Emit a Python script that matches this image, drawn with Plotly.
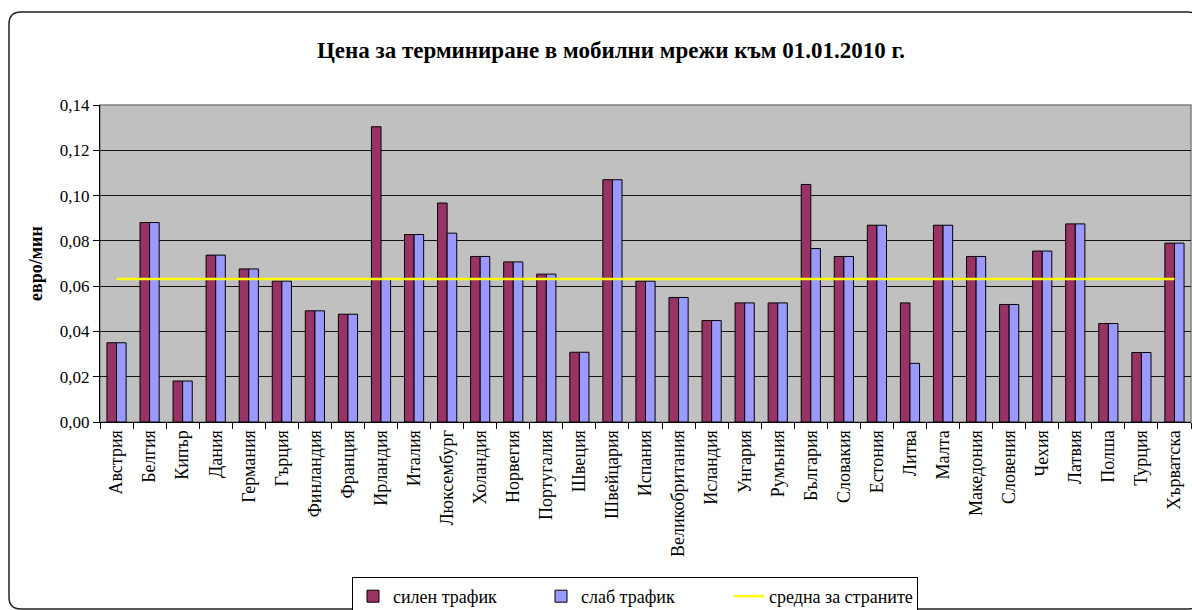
import plotly.graph_objects as go

countries = ["Австрия", "Белгия", "Кипър", "Дания", "Германия", "Гърция", "Финландия",
             "Франция", "Ирландия", "Италия", "Люксембург", "Холандия", "Норвегия",
             "Португалия", "Швеция", "Швейцария", "Испания", "Великобритания", "Исландия",
             "Унгария", "Румъния", "България", "Словакия", "Естония", "Литва", "Малта",
             "Македония", "Словения", "Чехия", "Латвия", "Полша", "Турция", "Хърватска"]

strong = [0.0350, 0.0881, 0.0181, 0.0737, 0.0676, 0.0622, 0.0491,
          0.0476, 0.1304, 0.0828, 0.0967, 0.0731, 0.0707,
          0.0653, 0.0308, 0.1070, 0.0622, 0.0550, 0.0448,
          0.0526, 0.0526, 0.1049, 0.0731, 0.0869, 0.0526, 0.0869,
          0.0731, 0.0519, 0.0755, 0.0875, 0.0435, 0.0307, 0.0790]

weak = [0.0350, 0.0881, 0.0181, 0.0737, 0.0676, 0.0622, 0.0491,
        0.0476, 0.0629, 0.0828, 0.0834, 0.0731, 0.0707,
        0.0653, 0.0308, 0.1070, 0.0622, 0.0550, 0.0448,
        0.0526, 0.0526, 0.0766, 0.0731, 0.0869, 0.0259, 0.0869,
        0.0731, 0.0519, 0.0755, 0.0875, 0.0435, 0.0307, 0.0790]

average = [0.0632] * len(countries)

y_ticks = [0.00, 0.02, 0.04, 0.06, 0.08, 0.10, 0.12, 0.14]
y_tick_labels = ["0,00", "0,02", "0,04", "0,06", "0,08", "0,10", "0,12", "0,14"]

FONT = "Liberation Serif, Times New Roman, serif"
W, H = 1192, 610
L, R, T, B = 100, 1, 105, 188
pw, ph = W - L - R, H - T - B


def px(x):
    return (x - L) / pw


def py(y):
    return (H - B - y) / ph


fig = go.Figure()
fig.add_trace(go.Bar(x=countries, y=strong, name="силен трафик",
                     marker=dict(color="#993366", line=dict(color="black", width=1))))
fig.add_trace(go.Bar(x=countries, y=weak, name="слаб трафик",
                     marker=dict(color="#9999FF", line=dict(color="black", width=1))))
fig.add_trace(go.Scatter(x=countries, y=average, name="средна за страните", mode="lines",
                         line=dict(color="#FFFF00", width=2.5)))

# outer rounded frame
x0, x1, y0, y1, r = px(9), px(1200), py(12), py(609), 12
rx, ry = r / pw, r / ph
path = (f"M {x0+rx},{y0} L {x1-rx},{y0} Q {x1},{y0} {x1},{y0-ry} "
        f"L {x1},{y1+ry} Q {x1},{y1} {x1-rx},{y1} L {x0+rx},{y1} "
        f"Q {x0},{y1} {x0},{y1+ry} L {x0},{y0-ry} Q {x0},{y0} {x0+rx},{y0} Z")
fig.add_shape(type="path", path=path, xref="paper", yref="paper",
              line=dict(color="#222222", width=1.5), layer="below")
fig.add_shape(type="rect", x0=0, x1=1, y0=0, y1=1, xref="paper", yref="paper",
              line=dict(color="#808080", width=1.5), layer="below")

fig.update_layout(
    width=W, height=H,
    margin=dict(l=L, r=R, t=T, b=B, autoexpand=False),
    paper_bgcolor="white",
    plot_bgcolor="#C0C0C0",
    barmode="group",
    bargap=0.42,
    bargroupgap=0,
    font=dict(family=FONT, size=16, color="black"),
    title=dict(text="<b>Цена за терминиране в мобилни мрежи към 01.01.2010 г.</b>",
               x=px(611), xanchor="center", xref="paper",
               y=1 - 50 / H, yanchor="middle",
               font=dict(family=FONT, size=23, color="black")),
    legend=dict(orientation="h", x=px(352), xanchor="left", y=py(577), yanchor="top",
                bordercolor="black", borderwidth=1, bgcolor="white",
                entrywidth=143, entrywidthmode="pixels",
                font=dict(family=FONT, size=18, color="black"),
                traceorder="normal"),
    showlegend=True,
)

fig.update_xaxes(
    type="category",
    tickangle=-90,
    tickson="boundaries",
    ticks="outside", ticklen=6, tickcolor="black",
    showline=True, linecolor="black", linewidth=1,
    showgrid=False,
    automargin=False,
    tickfont=dict(family=FONT, size=18, color="black"),
)
fig.update_yaxes(
    range=[0, 0.14],
    tickvals=y_ticks, ticktext=y_tick_labels,
    ticks="outside", ticklen=6, tickcolor="black",
    showline=True, linecolor="black", linewidth=1,
    showgrid=True, gridcolor="#111111", gridwidth=1,
    zeroline=False,
    automargin=False,
    tickfont=dict(family=FONT, size=17, color="black"),
    title=dict(text="<b>евро/мин</b>", standoff=12,
               font=dict(family=FONT, size=18, color="black")),
)

fig.write_html("out.html", config={"displayModeBar": False},
               post_script="document.body.style.margin='0';document.body.style.overflow='hidden';")
